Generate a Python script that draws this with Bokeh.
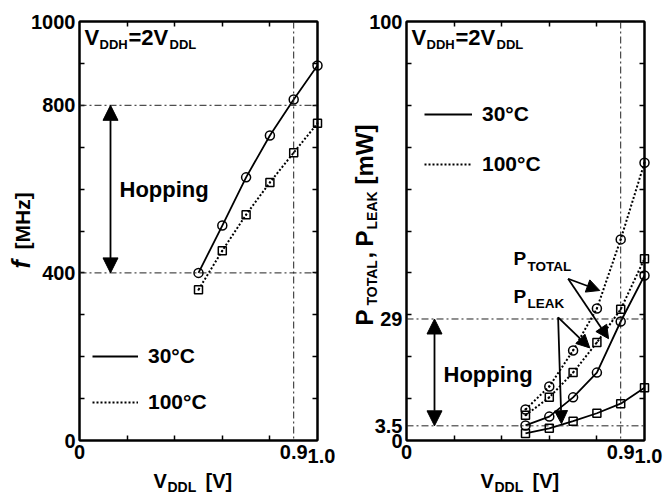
from bokeh.plotting import figure
from bokeh.models import (Range1d, FixedTicker, LinearAxis, Span, Arrow,
                          NormalHead, Legend, LegendItem, CustomJSTickFormatter)
from bokeh.core.properties import value
from bokeh.layouts import row
from bokeh.embed import file_html
from bokeh.resources import INLINE
import math

# ---------------- data ----------------
vddl = [0.5, 0.6, 0.7, 0.8, 0.9, 1.0]
f_30c = [400, 513, 628, 728, 814, 895]
f_100c = [360, 453, 539, 616, 687, 757]
ptotal_30c = [3.6, 5.7, 10.3, 16.2, 28.4, 39.4]
pleak_30c = [1.7, 2.9, 4.6, 6.5, 8.8, 12.6]
ptotal_100c = [7.4, 12.9, 21.5, 31.5, 48.0, 66.3]
pleak_100c = [6.0, 10.3, 16.2, 23.4, 31.3, 43.4]

x_major = [0, 0.9]
x_minor = [0.2, 0.4, 0.6, 0.8]
f_major = [0, 400, 800, 1000]
f_minor = [100, 200, 300, 400, 500, 600, 700, 800, 900]
p_major = [0, 3.5, 29, 100]
p_minor = [10, 20, 30, 40, 50, 60, 70, 80, 90]

f_hop = [400, 800]
p_hop = [3.5, 29]
v_ref = 0.9

FONT = "Liberation Sans"
FW, FH = 238, 419          # frame size (px)
TOP, BOT = 21, 440         # frame top / bottom on the page
HEIGHT = 497
HALF = math.pi / 2
BASE_FIX = 0.35            # baseline correction (fraction of font size)

fmt = CustomJSTickFormatter(code="return String(tick)")


def make_fig(ymax, width, left, right):
    p = figure(width=width, height=HEIGHT, x_range=Range1d(0, 1.0), y_range=Range1d(0, ymax),
               output_backend="svg", toolbar_location=None,
               min_border_left=left, min_border_right=right, min_border_top=TOP,
               min_border_bottom=HEIGHT - TOP - FH)
    p.grid.visible = False
    p.outline_line_color = "black"
    p.outline_line_width = 2
    p.background_fill_color = "white"
    p.border_fill_color = "white"
    return p


def style_axis(ax, major, minor):
    ax.ticker = FixedTicker(ticks=major, minor_ticks=minor)
    ax.formatter = fmt
    ax.axis_line_width = 2
    ax.axis_line_color = "black"
    ax.major_tick_in = 0
    ax.major_tick_out = 0
    ax.minor_tick_in = 5
    ax.minor_tick_out = 0
    ax.minor_tick_line_width = 1.5
    ax.minor_tick_line_color = "black"
    ax.major_label_text_font = FONT
    ax.major_label_text_font_size = "20px"
    ax.major_label_text_font_style = "bold"
    ax.major_label_text_color = "black"


def add_box_axes(p, yminor):
    r = LinearAxis(ticker=FixedTicker(ticks=[], minor_ticks=yminor))
    t = LinearAxis(ticker=FixedTicker(ticks=[], minor_ticks=x_minor))
    for ax in (r, t):
        ax.axis_line_width = 2
        ax.axis_line_color = "black"
        ax.major_tick_in = 0
        ax.major_tick_out = 0
        ax.minor_tick_in = 5
        ax.minor_tick_out = 0
        ax.minor_tick_line_width = 1.5
        ax.major_label_text_font_size = "0px"
        ax.major_label_standoff = 0
    p.add_layout(r, "right")
    p.add_layout(t, "above")


def txt(p, fl, ymax, px, py, text, size, style="bold", angle=0.0, align="left", baseline="alphabetic"):
    # px, py: page pixel position of the text's baseline start; fl: page x of the frame's left edge
    if baseline == "alphabetic":
        if angle:
            px -= BASE_FIX * size
        else:
            py -= BASE_FIX * size
    x = (px - fl) / FW
    y = ymax * (BOT - py) / FH
    p.text(x=[x], y=[y], text=[text], angle=angle, text_font=value(FONT),
           text_font_size=value(f"{size}px"), text_font_style=style, text_color="black",
           text_align=align, text_baseline=baseline, level="overlay")


def arrow(p, x0, y0, x1, y1, size, both=False):
    head = lambda: NormalHead(size=size, fill_color="black", line_color="black", line_width=1)
    p.add_layout(Arrow(start=head() if both else None, end=head(),
                       x_start=x0, y_start=y0, x_end=x1, y_end=y1,
                       line_color="black", line_width=1.8))


def refline(p, loc, dim):
    p.add_layout(Span(location=loc, dimension=dim, line_color="#222222", line_width=1,
                      line_dash="7 3 2 3"))


def legend(p, r30, r100, loc, gw, spacing):
    leg = Legend(items=[LegendItem(label="30°C", renderers=[r30]),
                        LegendItem(label="100°C", renderers=[r100])],
                 location=loc, border_line_color=None, background_fill_alpha=0,
                 padding=0, margin=0, spacing=spacing, glyph_width=gw, glyph_height=24,
                 label_height=24, label_standoff=10, label_text_font=FONT,
                 label_text_font_size="21px", label_text_font_style="bold",
                 label_text_color="black", label_text_baseline="middle")
    p.add_layout(leg, "center")


def common_texts(p, fl, ymax):
    d = fl - 79
    # V_DDH = 2 V_DDL
    txt(p, fl, ymax, 84 + d, 45, "V", 22)
    txt(p, fl, ymax, 99 + d, 49, "DDH", 13)
    txt(p, fl, ymax, 128 + d, 45, "=2V", 22)
    txt(p, fl, ymax, 169 + d, 49, "DDL", 13)
    # x axis title
    txt(p, fl, ymax, 153 + d, 487, "V", 20)
    txt(p, fl, ymax, 167 + d, 491, "DDL", 14)
    txt(p, fl, ymax, 205 + d, 487, "[V]", 20)
    # lowered "1.0" tick label
    txt(p, fl, ymax, 321 + d, 448, "1.0", 20, align="center", baseline="top")


def series(p, xs, ys, dotted, marker):
    if dotted:
        r = p.line(xs, ys, line_color="black", line_width=2, line_dash="2 2")
    else:
        r = p.line(xs, ys, line_color="black", line_width=1.8)
    p.scatter(xs, ys, marker=marker, size=9 if "circle" in marker else 8,
              fill_color=None, line_color="black", line_width=1.5, level="overlay")
    return r


# ---------------- left: frequency ----------------
FMAX = 1000
FL1 = 79
p1 = make_fig(FMAX, 335, FL1, 335 - FL1 - FW)
style_axis(p1.xaxis[0], x_major, x_minor)
style_axis(p1.yaxis[0], f_major, f_minor)
p1.xaxis.major_label_standoff = 4
p1.yaxis.major_label_standoff = 4
add_box_axes(p1, f_minor)
for v in f_hop:
    refline(p1, v, "width")
refline(p1, v_ref, "height")

l30 = series(p1, vddl, f_30c, False, "circle")
l100 = series(p1, vddl, f_100c, True, "square_dot")

legend(p1, l30, l100, (13, 26), 46, 22)
common_texts(p1, FL1, FMAX)
arrow(p1, 31 / FW, f_hop[0], 31 / FW, f_hop[1], 15, both=True)
txt(p1, FL1, FMAX, 119, 197, "Hopping", 22)
txt(p1, FL1, FMAX, 29, 268, "f", 25, style="bold italic", angle=HALF)
txt(p1, FL1, FMAX, 29, 249, "[MHz]", 21, angle=HALF)

# ---------------- right: power ----------------
PMAX = 100
FL2 = 406
p2 = make_fig(PMAX, 333, FL2 - 335, 333 - (FL2 - 335) - FW)
style_axis(p2.xaxis[0], x_major, x_minor)
style_axis(p2.yaxis[0], p_major, p_minor)
p2.xaxis.major_label_standoff = 4
p2.yaxis.major_label_standoff = 4
add_box_axes(p2, p_minor)
for v in p_hop:
    refline(p2, v, "width")
refline(p2, v_ref, "height")

r30 = series(p2, vddl, ptotal_30c, False, "circle")
series(p2, vddl, pleak_30c, False, "square")
r100 = series(p2, vddl, ptotal_100c, True, "circle_dot")
series(p2, vddl, pleak_100c, True, "square_dot")

legend(p2, r30, r100, (18, 264), 48, 26)
common_texts(p2, FL2, PMAX)
arrow(p2, 28 / FW, p_hop[1], 28 / FW, p_hop[0], 15, both=True)
txt(p2, FL2, PMAX, 443, 382, "Hopping", 22)

# P_TOTAL / P_LEAK annotations
txt(p2, FL2, PMAX, 513, 265, "P", 19)
txt(p2, FL2, PMAX, 527, 271, "TOTAL", 13.5)
txt(p2, FL2, PMAX, 513, 303, "P", 19)
txt(p2, FL2, PMAX, 527, 308, "LEAK", 13.5)
arrow(p2, 0.679, 38.6, 0.812, 35.8, 13)
arrow(p2, 0.679, 38.6, 0.849, 24.3, 13)
arrow(p2, 0.637, 29.4, 0.770, 22.1, 13)
arrow(p2, 0.637, 29.4, 0.651, 4.0, 13)

# rotated y axis title
txt(p2, FL2, PMAX, 372, 325, "P", 24, angle=HALF)
txt(p2, FL2, PMAX, 376, 305, "TOTAL", 14, angle=HALF)
txt(p2, FL2, PMAX, 372, 258, ",", 24, angle=HALF)
txt(p2, FL2, PMAX, 372, 246, "P", 24, angle=HALF)
txt(p2, FL2, PMAX, 376, 229, "LEAK", 14, angle=HALF)
txt(p2, FL2, PMAX, 372, 184, "[mW]", 24, angle=HALF)

layout = row(p1, p2)
open("out.html", "w").write(file_html(layout, INLINE))
